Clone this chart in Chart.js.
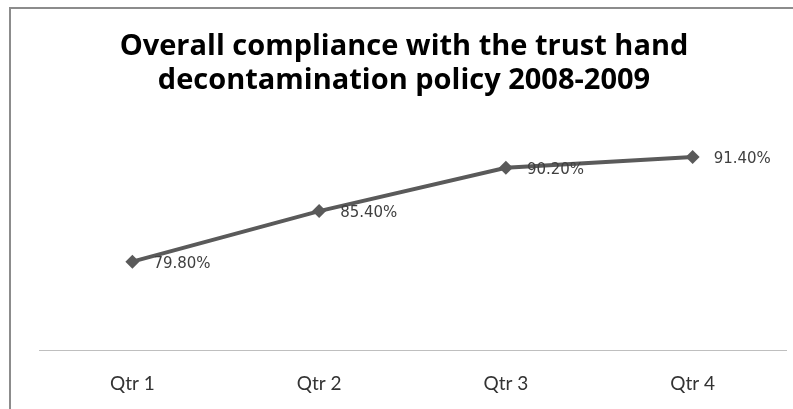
<!DOCTYPE html>
<html>
<head>
<meta charset="utf-8">
<script src="https://cdn.jsdelivr.net/npm/chart.js@4.4.0/dist/chart.umd.min.js"></script>
<style>
  html, body { margin: 0; padding: 0; background: #fff; overflow: hidden; }
  .frame {
    position: absolute; left: 9px; top: 7px; right: 0; bottom: 0;
    border-left: 2px solid #8c8c8c; border-top: 2px solid #8c8c8c;
  }
  #lineChart { position: absolute; left: 0; top: 0; }
</style>
</head>
<body>
<div class="frame"></div>
<canvas id="lineChart" width="793" height="409"></canvas>
<script>
const quarters = ['Qtr 1', 'Qtr 2', 'Qtr 3', 'Qtr 4'];
const compliance = [79.8, 85.4, 90.2, 91.4];
const titleLines = ['Overall compliance with the trust hand', 'decontamination policy 2008-2009'];

// value labels drawn to the right of each point
const pointLabels = {
  id: 'pointLabels',
  afterDatasetsDraw(chart) {
    const { ctx } = chart;
    const meta = chart.getDatasetMeta(0);
    ctx.save();
    ctx.font = '15px "DejaVu Sans"';
    ctx.fillStyle = '#404040';
    ctx.textAlign = 'left';
    ctx.textBaseline = 'middle';
    meta.data.forEach((pt, i) => {
      ctx.fillText(compliance[i].toFixed(2) + '%', pt.x + 21, pt.y + 2);
    });
    ctx.restore();
  }
};

const lineChartCtx = document.getElementById('lineChart');
new Chart(lineChartCtx, {
  type: 'line',
  data: {
    labels: quarters,
    datasets: [{
      data: compliance,
      borderColor: '#5a5a5a',
      backgroundColor: '#5a5a5a',
      borderWidth: 4,
      pointStyle: 'rectRot',
      pointRadius: 7,
      pointBorderWidth: 0,
      tension: 0
    }]
  },
  options: {
    responsive: false,
    animation: false,
    layout: {
      padding: { left: 22, right: 7, top: 0, bottom: 0 }
    },
    plugins: {
      legend: { display: false },
      tooltip: { enabled: false },
      title: {
        display: true,
        text: titleLines,
        color: '#000',
        font: { family: 'Open Sans', size: 29, weight: 'bold', lineHeight: 1.2 },
        padding: { top: 29, bottom: 5 }
      }
    },
    scales: {
      x: {
        offset: true,
        grid: { display: false },
        border: { display: true, color: '#bfbfbf', width: 1 },
        ticks: {
          color: '#333',
          padding: 14,
          font: { family: 'Lato', size: 19 }
        }
      },
      y: {
        // kept as an empty strip so the plot starts further right than the title box
        min: 70,
        max: 97.3,
        grid: { display: false },
        border: { display: false },
        ticks: { display: false },
        afterFit(scale) { scale.width = 17; }
      }
    }
  },
  plugins: [pointLabels]
});
</script>
</body>
</html>
